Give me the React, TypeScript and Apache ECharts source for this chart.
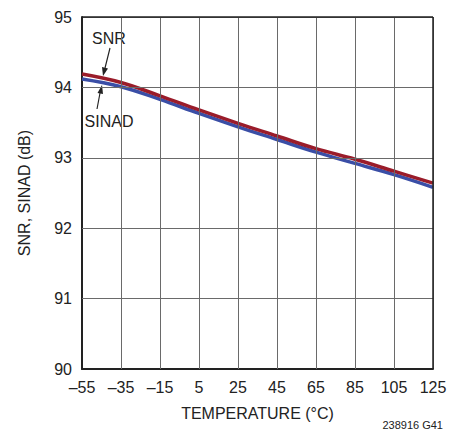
import React, { useEffect, useRef } from "react";
import * as echarts from "echarts";

const temps = [-55, -35, -15, 5, 25, 45, 65, 85, 105, 125];
const snr = [94.19, 94.07, 93.88, 93.68, 93.49, 93.31, 93.13, 92.98, 92.81, 92.64];
const sinad = [94.12, 94.01, 93.83, 93.63, 93.44, 93.26, 93.08, 92.92, 92.76, 92.58];
const xGridValues = [-35, -15, 5, 25, 45, 65, 85, 105];
const yGridValues = [91, 92, 93, 94];
const xTicks = { min: -55, max: 125, interval: 20 };
const yTicks = { min: 90, max: 95, interval: 1 };

const FONT = "'Liberation Sans Narrow', 'Liberation Sans', Arial, sans-serif";

export default function App() {
  const ref = useRef<HTMLDivElement>(null);
  useEffect(() => {
    if (!ref.current) return;
    const chart = echarts.init(ref.current, undefined, { renderer: "svg" });
    const fmt = (v: number) => String(v).replace("-", "\u2013");
    const gridLines = [
      ...xGridValues.map((v) => ({ xAxis: v })),
      ...yGridValues.map((v) => ({ yAxis: v })),
    ];
    const frameLines = [{ xAxis: xTicks.max }, { yAxis: yTicks.max }];
    chart.setOption({
      animation: false,
      backgroundColor: "#fff",
      grid: {
        left: 82,
        top: 17,
        width: 351,
        height: 352,
        show: false,
      },
      xAxis: {
        type: "value",
        min: xTicks.min,
        max: xTicks.max,
        interval: xTicks.interval,
        axisLine: { show: true, onZero: false, lineStyle: { color: "#222", width: 2 } },
        axisTick: { show: false },
        splitLine: { show: true, lineStyle: { color: "#6a6a6a", width: 1 } },
        axisLabel: {
          color: "#222",
          fontFamily: FONT,
          fontSize: 16,
          margin: 10,
          formatter: fmt,
        },
        name: "TEMPERATURE (°C)",
        nameLocation: "middle",
        nameGap: 36,
        nameTextStyle: { color: "#222", fontFamily: FONT, fontSize: 16 },
      },
      yAxis: {
        type: "value",
        min: yTicks.min,
        max: yTicks.max,
        interval: yTicks.interval,
        axisLine: { show: true, onZero: false, lineStyle: { color: "#222", width: 2 } },
        axisTick: { show: false },
        splitLine: { show: true, lineStyle: { color: "#6a6a6a", width: 1 } },
        axisLabel: {
          color: "#222",
          fontFamily: FONT,
          fontSize: 16,
          margin: 10,
        },
        name: "SNR, SINAD (dB)",
        nameLocation: "middle",
        nameGap: 50,
        nameTextStyle: { color: "#222", fontFamily: FONT, fontSize: 16 },
      },
      series: [
        {
          name: "grid",
          type: "line",
          data: [],
          silent: true,
          z: 1,
          markLine: {
            silent: true,
            symbol: ["none", "none"],
            label: { show: false },
            lineStyle: { color: "#6a6a6a", width: 1, type: "solid" },
            data: gridLines,
          },
        },
        {
          name: "frame",
          type: "line",
          data: [],
          silent: true,
          z: 1,
          markLine: {
            silent: true,
            symbol: ["none", "none"],
            label: { show: false },
            lineStyle: { color: "#222", width: 1.5, type: "solid" },
            data: frameLines,
          },
        },
        {
          name: "SINAD",
          type: "line",
          data: temps.map((t, i) => [t, sinad[i]]),
          smooth: 0.4,
          symbol: "none",
          lineStyle: { color: "#3a4ea6", width: 3.5 },
          z: 2,
        },
        {
          name: "SNR",
          type: "line",
          data: temps.map((t, i) => [t, snr[i]]),
          smooth: 0.4,
          symbol: "none",
          lineStyle: { color: "#9a1c2a", width: 3.5 },
          z: 3,
        },
      ],
      graphic: [
        {
          type: "text",
          x: 109,
          y: 38,
          style: {
            text: "SNR",
            fontFamily: FONT,
            fontSize: 16,
            fill: "#222",
            align: "center",
            verticalAlign: "middle",
          },
        },
        {
          type: "line",
          shape: { x1: 110, y1: 48, x2: 105, y2: 68 },
          style: { stroke: "#222", lineWidth: 1.2 },
        },
        {
          type: "polygon",
          shape: { points: [[103, 76], [102, 67], [108, 68.5]] },
          style: { fill: "#222" },
        },
        {
          type: "text",
          x: 109,
          y: 121,
          style: {
            text: "SINAD",
            fontFamily: FONT,
            fontSize: 16,
            fill: "#222",
            align: "center",
            verticalAlign: "middle",
          },
        },
        {
          type: "line",
          shape: { x1: 97, y1: 109, x2: 100, y2: 93 },
          style: { stroke: "#222", lineWidth: 1.2 },
        },
        {
          type: "polygon",
          shape: { points: [[102, 85], [103, 94], [97.5, 93]] },
          style: { fill: "#222" },
        },
        {
          type: "text",
          x: 443,
          y: 425,
          style: {
            text: "238916 G41",
            fontFamily: FONT,
            fontSize: 11,
            fill: "#222",
            align: "right",
            verticalAlign: "middle",
          },
        },
      ],
    });
    return () => chart.dispose();
  }, []);
  return (
    <div
      ref={ref}
      style={{ position: "fixed", left: 0, top: 0, width: 467, height: 432 }}
    />
  );
}
